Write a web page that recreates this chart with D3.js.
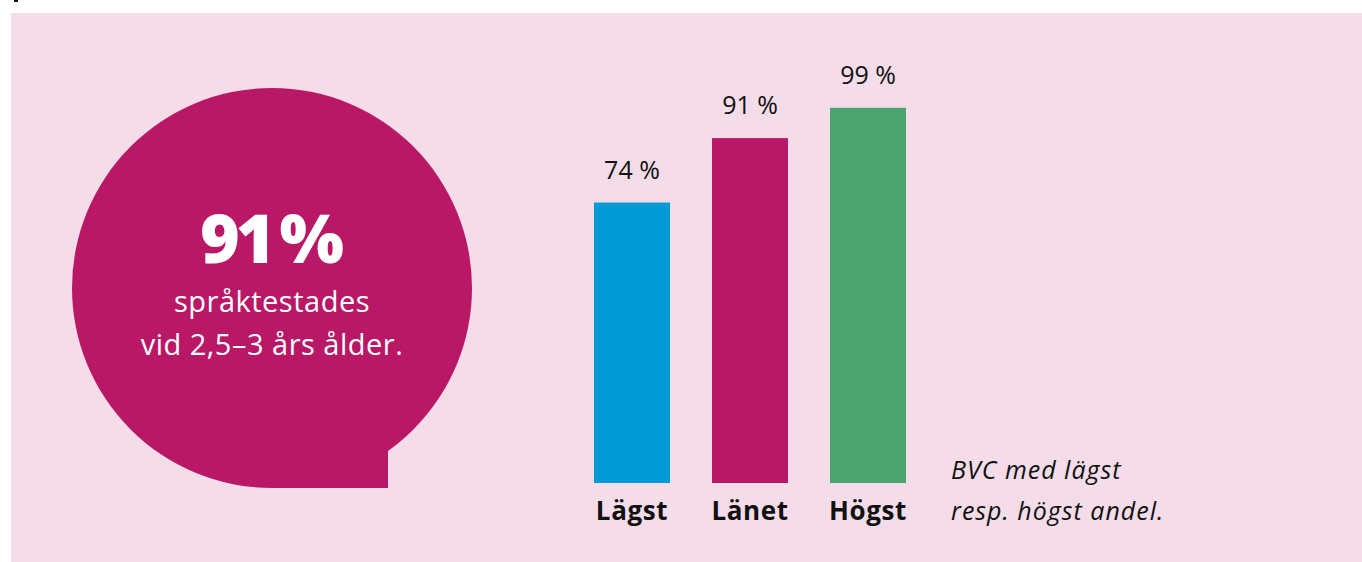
<!DOCTYPE html>
<html>
<head>
<meta charset="utf-8">
<script src="https://cdn.jsdelivr.net/npm/d3@7"></script>
<style>
  body { margin: 0; background: #fff; }
  svg { display: block; }
</style>
</head>
<body>
<svg width="1362" height="562"></svg>
<script>
// dimensions
var width = 1362, height = 562;

// data
var categories = ['Lägst', 'Länet', 'Högst'];
var values = [74, 91, 99];
var barColors = ['#009bd7', '#b91867', '#4ba370'];
var noteLines = ['BVC med lägst', 'resp. högst andel.'];
var bubbleLines = ['språktestades', 'vid 2,5–3 års ålder.'];

var svg = d3.select('svg');

// little black mark at the very top
svg.append('rect')
  .attr('x', 14).attr('y', 0)
  .attr('width', 4).attr('height', 2)
  .attr('fill', '#111');

// pink panel
svg.append('rect')
  .attr('x', 11).attr('y', 13)
  .attr('width', width - 11).attr('height', height - 13)
  .attr('fill', '#f4dce8');

// speech bubble
var cx = 272, cy = 288, r = 200;
var tailX = 388;
var tailY = cy + Math.sqrt(r * r - (tailX - cx) * (tailX - cx));
var bubble = svg.append('g');
bubble.append('circle')
  .attr('cx', cx).attr('cy', cy).attr('r', r)
  .attr('fill', '#b91867');
bubble.append('path')
  .attr('d', 'M' + cx + ',' + (cy + r) + ' L' + tailX + ',' + (cy + r) +
    ' L' + tailX + ',' + (tailY - 2) + ' L' + cx + ',' + cy + 'Z')
  .attr('fill', '#b91867');

var big = bubble.append('text')
  .attr('x', cx).attr('y', 263)
  .attr('text-anchor', 'middle')
  .attr('font-family', 'Open Sans, sans-serif')
  .attr('font-weight', 800)
  .attr('font-size', 68)
  .attr('fill', '#fff');
big.append('tspan').attr('letter-spacing', -4).text(values[1]);
big.append('tspan').attr('dx', 8).text('%');

bubble.selectAll('text.line')
  .data(bubbleLines)
  .enter()
  .append('text')
  .attr('class', 'line')
  .attr('x', cx)
  .attr('y', function(d, i) { return 312 + i * 43; })
  .attr('text-anchor', 'middle')
  .attr('font-family', 'Open Sans, sans-serif')
  .attr('font-size', 29)
  .attr('letter-spacing', 0.5)
  .attr('fill', '#fff')
  .text(function(d) { return d; });

// bar chart
var x = d3.scaleBand()
  .domain(categories)
  .range([594, 906])
  .paddingInner(0.356)
  .paddingOuter(0);

var y = d3.scaleLinear()
  .domain([0, 100])
  .range([483, 104]);

var bars = svg.append('g');

bars.selectAll('rect')
  .data(values)
  .enter()
  .append('rect')
  .attr('x', function(d, i) { return x(categories[i]); })
  .attr('y', function(d) { return y(d); })
  .attr('width', x.bandwidth())
  .attr('height', function(d) { return y(0) - y(d); })
  .attr('fill', function(d, i) { return barColors[i]; });

bars.selectAll('text.value')
  .data(values)
  .enter()
  .append('text')
  .attr('class', 'value')
  .attr('x', function(d, i) { return x(categories[i]) + x.bandwidth() / 2; })
  .attr('y', function(d) { return y(d) - 24; })
  .attr('text-anchor', 'middle')
  .attr('font-family', 'Open Sans, sans-serif')
  .attr('font-size', 25)
  .attr('fill', '#111')
  .text(function(d) { return d + ' %'; });

// category axis labels
var xAxis = d3.axisBottom(x).tickSize(0).tickPadding(0);
var axisG = svg.append('g')
  .attr('transform', 'translate(0,' + y(0) + ')')
  .call(xAxis);
axisG.select('.domain').remove();
axisG.selectAll('text')
  .attr('dy', null)
  .attr('y', 37)
  .attr('font-family', 'Open Sans, sans-serif')
  .attr('font-weight', 700)
  .attr('font-size', 26)
  .attr('letter-spacing', 0.6)
  .attr('fill', '#111');

// note
svg.selectAll('text.note')
  .data(noteLines)
  .enter()
  .append('text')
  .attr('class', 'note')
  .attr('x', 951)
  .attr('y', function(d, i) { return 479 + i * 41; })
  .attr('font-family', 'Open Sans, sans-serif')
  .attr('font-style', 'italic')
  .attr('font-size', 25)
  .attr('letter-spacing', 1)
  .attr('fill', '#111')
  .text(function(d) { return d; });
</script>
</body>
</html>
